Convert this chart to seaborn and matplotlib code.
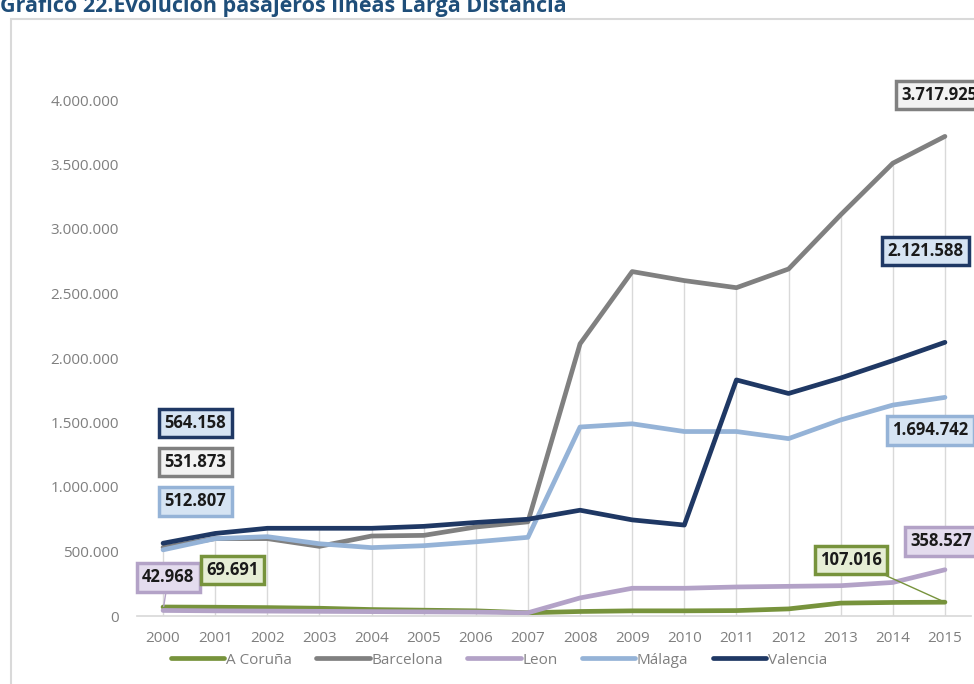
import matplotlib
matplotlib.use("Agg")

import matplotlib.pyplot as plt
import matplotlib.ticker as mticker
from matplotlib.patches import Rectangle
import numpy as np
import pandas as pd
import seaborn as sns

# ── Data (passengers per year, long-distance lines) ───────────────────────────
YEARS = list(range(2000, 2016))
CITIES = ["A Coruña", "Barcelona", "Leon", "Málaga", "Valencia"]

a_coruna = [69691, 68000, 65000, 60000, 50000, 45000, 40000, 25000,
            35000, 40000, 40000, 42000, 55000, 100000, 105000, 107016]
barcelona = [531873, 600000, 600000, 540000, 620000, 625000, 690000, 730000,
             2110000, 2670000, 2600000, 2545000, 2690000, 3110000, 3510000, 3717925]
leon = [42968, 40000, 38000, 36000, 34000, 32000, 30000, 25000,
        140000, 215000, 215000, 225000, 230000, 235000, 260000, 358527]
malaga = [512807, 600000, 615000, 560000, 530000, 545000, 575000, 610000,
          1465000, 1490000, 1430000, 1430000, 1375000, 1520000, 1635000, 1694742]
valencia = [564158, 640000, 680000, 680000, 680000, 695000, 725000, 750000,
            820000, 745000, 705000, 1830000, 1725000, 1845000, 1980000, 2121588]

SERIES = {"A Coruña": a_coruna, "Barcelona": barcelona, "Leon": leon,
          "Málaga": malaga, "Valencia": valencia}

# ── Styles ────────────────────────────────────────────────────────────────────
COLORS = {"A Coruña": "#77933c", "Barcelona": "#808080", "Leon": "#b3a2c7",
          "Málaga": "#95b3d7", "Valencia": "#1f3864"}
FILLS = {"A Coruña": "#e6eed5", "Barcelona": "#f2f2f2", "Leon": "#e4dcee",
         "Málaga": "#d6e4f3", "Valencia": "#d6e4f3"}

# data labels: (city, index of value, label x offset, label y, leader line)
LABELS = [
    ("Valencia", 0, 0.62, 1.495e6, False),
    ("Barcelona", 0, 0.62, 1.195e6, False),
    ("Málaga", 0, 0.62, 0.89e6, False),
    ("Leon", 0, 0.10, 0.30e6, True),
    ("A Coruña", 0, 1.33, 0.357e6, False),
    ("A Coruña", 15, 13.20, 0.435e6, True),
    ("Leon", 15, 14.92, 0.58e6, False),
    ("Barcelona", 15, 14.90, 4.04e6, False),
    ("Valencia", 15, 14.63, 2.83e6, False),
    ("Málaga", 15, 14.72, 1.44e6, False),
]

df = pd.DataFrame(
    [(c, y, v) for c in CITIES for y, v in zip(YEARS, SERIES[c])],
    columns=["city", "year", "value"],
)

sns.set_theme(style="white")
plt.rcParams["font.family"] = ["Open Sans", "DejaVu Sans"]

fig = plt.figure(figsize=(9.74, 6.84), dpi=100)
ax = fig.add_axes([137 / 974, 68 / 684, 834 / 974, 580.5 / 684])

# chart frame + title (cut at the top like the source)
fig.patches.append(Rectangle((11 / 974, -0.1), 1.2, 1.1 - 19 / 684,
                             transform=fig.transFigure, fill=False,
                             edgecolor="#d9d9d9", lw=1.5))
fig.text(0.0, 1 - 12 / 684, "Gráfico 22.Evolución pasajeros líneas Larga Distancia",
         color="#1f4e79", fontsize=15.5, fontweight="bold", va="baseline", ha="left")

# drop lines
ymax = df.groupby("year")["value"].max()
ax.vlines(ymax.index, 0, ymax.values, color="#d9d9d9", lw=1, zorder=0)

sns.lineplot(data=df, x="year", y="value", hue="city", hue_order=CITIES,
             palette=COLORS, lw=3.4, ax=ax, zorder=2)

for city, i, lx, ly, leader in LABELS:
    val = SERIES[city][i]
    txt = f"{val:,.0f}".replace(",", ".")
    ax.annotate(
        txt, xy=(YEARS[i], val), xytext=(YEARS[0] + lx, ly),
        ha="center", va="center", fontsize=12, fontweight="bold",
        color="#1a1a1a", annotation_clip=False, zorder=5,
        bbox=dict(boxstyle="square,pad=0.32", fc=FILLS[city],
                  ec=COLORS[city], lw=2.5),
        arrowprops=dict(arrowstyle="-", color=COLORS[city], lw=1,
                        shrinkA=0, shrinkB=3) if leader else None,
    )

ax.set_xlim(1999.5, 2015.5)
ax.set_ylim(0, 4.5e6)
ax.set_xticks(YEARS)
ax.set_yticks(np.arange(0, 4.0e6 + 1, 5e5))
ax.yaxis.set_major_formatter(
    mticker.FuncFormatter(lambda v, _: f"{v:,.0f}".replace(",", ".")))
ax.tick_params(axis="x", length=0, pad=11, labelsize=11, labelcolor="#7f7f7f")
ax.tick_params(axis="y", length=0, pad=13, labelsize=11, labelcolor="#7f7f7f")
ax.set_xlabel("")
ax.set_ylabel("")
for side in ["top", "right", "left"]:
    ax.spines[side].set_visible(False)
ax.spines["bottom"].set_color("#d9d9d9")
ax.grid(False)

sns.move_legend(ax, "center", bbox_to_anchor=(0.434, -0.076), ncol=5,
                frameon=False, title=None, fontsize=11, labelcolor="#7f7f7f",
                handlelength=3.5, handletextpad=0.1, columnspacing=1.6)

fig.savefig("out.png", dpi=100)
